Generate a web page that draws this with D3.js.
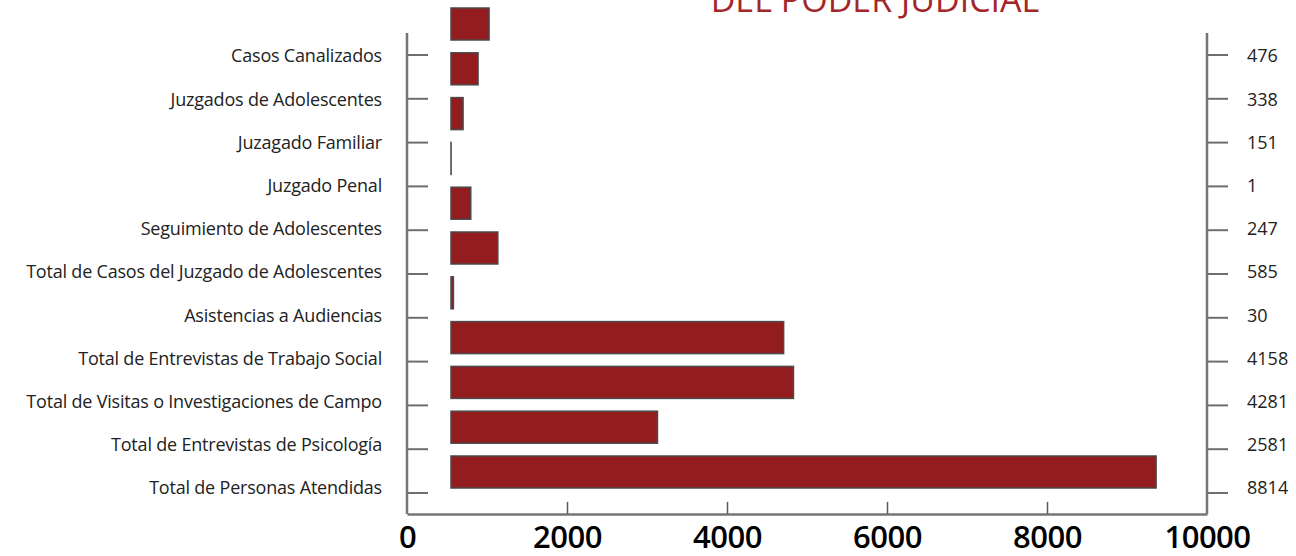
<!DOCTYPE html>
<html>
<head>
<meta charset="utf-8">
<script src="https://cdn.jsdelivr.net/npm/d3@7"></script>
<style>
  html, body { margin: 0; padding: 0; background: #fff; }
  svg { display: block; font-family: 'Open Sans', sans-serif; }
</style>
</head>
<body>
<div id="container"></div>
<script>
const w = 1296
const h = 556

// data
const categories = [
  'Casos Canalizados',
  'Juzgados de Adolescentes',
  'Juzagado Familiar',
  'Juzgado Penal',
  'Seguimiento de Adolescentes',
  'Total de Casos del Juzgado de Adolescentes',
  'Asistencias a Audiencias',
  'Total de Entrevistas de Trabajo Social',
  'Total de Visitas o Investigaciones de Campo',
  'Total de Entrevistas de Psicología',
  'Total de Personas Atendidas'
]
const values = [476, 338, 151, 1, 247, 585, 30, 4158, 4281, 2581, 8814]
// the bars in the original all start a bit right of zero
const barStart = 550
const xTicks = [0, 2000, 4000, 6000, 8000, 10000]
const title = 'DEL PODER JUDICIAL'

var svg = d3.select('div#container')
  .append('svg')
  .attr('width', w)
  .attr('height', h)

var x = d3.scaleLinear()
  .domain([0, 10000])
  .range([407, 1207])

// bars, ticks and labels do not sit on quite the same rows in the original
var yBar = d3.scalePoint().domain(categories).range([24, 472])
var yTick = d3.scalePoint().domain(categories).range([55, 493])
var yLabel = d3.scalePoint().domain(categories).range([56, 488])

const barH = 32
const axisBottom = 514
const axisTop = 33

// title is cut by the top edge, as in the original
svg.append('text')
  .attr('x', 875)
  .attr('y', 12)
  .style('text-anchor', 'middle')
  .style('font-size', '34px')
  .style('fill', '#a3272a')
  .text(title)

// left and right axis lines
svg.append('g')
  .selectAll('line')
  .data([x(0), x(10000)])
  .enter().append('line')
  .attr('x1', d => d)
  .attr('x2', d => d)
  .attr('y1', axisTop)
  .attr('y2', axisBottom)
  .style('stroke', '#767676')
  .style('stroke-width', 2.5)

// category ticks on both sides
svg.append('g')
  .selectAll('line')
  .data(categories)
  .enter().append('line')
  .attr('x1', x(0))
  .attr('x2', x(0) + 21)
  .attr('y1', d => yTick(d))
  .attr('y2', d => yTick(d))
  .style('stroke', '#6e6e6e')
  .style('stroke-width', 2)

svg.append('g')
  .selectAll('line')
  .data(categories)
  .enter().append('line')
  .attr('x1', x(10000))
  .attr('x2', x(10000) + 21)
  .attr('y1', d => yTick(d))
  .attr('y2', d => yTick(d))
  .style('stroke', '#6e6e6e')
  .style('stroke-width', 2)

svg.append('g')
  .selectAll('text')
  .data(categories)
  .enter().append('text')
  .attr('x', 382)
  .attr('y', d => yLabel(d))
  .attr('dy', '0.36em')
  .style('text-anchor', 'end')
  .style('font-size', '18px')
  .style('letter-spacing', '-0.2px')
  .style('fill', '#222')
  .text(d => d)

svg.append('g')
  .selectAll('text')
  .data(values)
  .enter().append('text')
  .attr('x', 1247)
  .attr('y', (d, i) => yLabel(categories[i]))
  .attr('dy', '0.36em')
  .style('font-size', '18px')
  .style('fill', '#222')
  .text(d => d)

// bars
svg.append('g')
  .selectAll('rect')
  .data(values)
  .enter().append('rect')
  .attr('x', x(barStart))
  .attr('y', (d, i) => yBar(categories[i]) - barH / 2)
  .attr('width', d => x(barStart + d) - x(barStart))
  .attr('height', barH)
  .style('fill', '#931c1f')
  .style('stroke', '#4a4a4a')
  .style('stroke-width', 1.5)

// bottom axis
var xAxis = svg.append('g')
  .attr('transform', 'translate(0,' + axisBottom + ')')
  .call(d3.axisBottom(x).tickValues(xTicks).tickFormat(d3.format('d')).tickSizeInner(-12).tickSizeOuter(0))

xAxis.select('.domain')
  .style('stroke', '#767676')
  .style('stroke-width', 2.5)

xAxis.selectAll('.tick line')
  .style('stroke', '#5a5a5a')
  .style('stroke-width', 1.5)
  .filter(d => d === 0 || d === 10000)
  .remove()

xAxis.selectAll('.tick text')
  .attr('y', 34)
  .attr('dy', 0)
  .style('font-family', "'Open Sans', sans-serif")
  .style('font-size', '31px')
  .style('font-weight', 600)
  .style('letter-spacing', '-0.5px')
  .style('fill', '#000')
</script>
</body>
</html>
